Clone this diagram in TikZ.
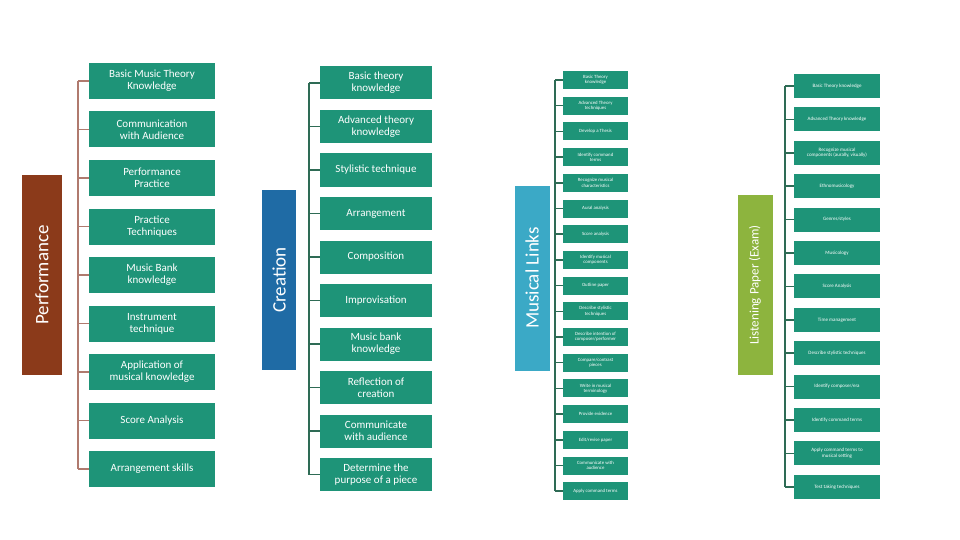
\documentclass[tikz,border=0pt]{standalone}
\usepackage{fontspec}
\setmainfont{Carlito}
\definecolor{boxg}{HTML}{1E9478}
\definecolor{perf}{HTML}{8B3A1A}
\definecolor{crea}{HTML}{1F6BA5}
\definecolor{musl}{HTML}{3BA9C6}
\definecolor{lisp}{HTML}{8DB43E}
\definecolor{brl}{HTML}{B07A6E}
\definecolor{dgl}{HTML}{2E6B55}
\begin{document}
\begin{tikzpicture}[x=1pt,y=-1pt,
 bx/.style={fill=boxg,text=white,align=center,inner sep=0pt},
 b1/.style={bx,minimum width=126,minimum height=36,font=\fontsize{11}{12}\selectfont},
 b2/.style={bx,minimum width=112,minimum height=33,font=\fontsize{11}{12}\selectfont},
 b3/.style={bx,minimum width=65,minimum height=18,font=\fontsize{4.8}{5.2}\selectfont},
 b4/.style={bx,minimum width=86,minimum height=24,font=\fontsize{5}{5.6}\selectfont},
 ttl/.style={text=white,rotate=90,inner sep=0pt,font=\fontsize{19}{20}\selectfont}]
\useasboundingbox (0,0) rectangle (960,540);
\node[fill=perf,minimum width=40,minimum height=200,inner sep=0] (tp) at (42,275) {};
\node[ttl] at (tp) {Performance};
\node[fill=crea,minimum width=34,minimum height=180,inner sep=0] (tc) at (279,280) {};
\node[ttl] at (tc) {Creation};
\node[fill=musl,minimum width=35,minimum height=185,inner sep=0] (tm) at (532,278) {};
\node[ttl] at (tm) {Musical Links};
\node[fill=lisp,minimum width=35,minimum height=180,inner sep=0] (tl) at (755,285) {};
\node[ttl,font=\fontsize{13}{14}\selectfont] at (tl) {Listening Paper (Exam)};
% Performance
\foreach \t [count=\i] in {{Basic Music Theory\\Knowledge},{Communication\\with Audience},{Performance\\Practice},{Practice\\Techniques},{Music Bank\\knowledge},{Instrument\\technique},{Application of\\musical knowledge},{Score Analysis},{Arrangement skills}}{
 \pgfmathsetmacro\yy{81+48.5*(\i-1)}
 \node[b1] (p\i) at (152,\yy) {\t};
 \draw[brl,line width=1.5] (78,\yy) -- (p\i.west);}
\draw[brl,line width=1.5] (78,81) -- (78,469);
% Creation
\foreach \t [count=\i] in {{Basic theory\\knowledge},{Advanced theory\\knowledge},{Stylistic technique},{Arrangement},{Composition},{Improvisation},{Music bank\\knowledge},{Reflection of\\creation},{Communicate\\with audience},{Determine the\\purpose of a piece}}{
 \pgfmathsetmacro\yy{83+43.5*(\i-1)}
 \node[b2] (c\i) at (376,\yy) {\t};
 \draw[dgl,line width=1.5] (309,\yy) -- (c\i.west);}
\draw[dgl,line width=1.5] (309,83) -- (309,475);
% Musical links
\foreach \t [count=\i] in {{Basic Theory\\knowledge},{Advanced Theory\\techniques},{Develop a Thesis},{Identify command\\terms},{Recognize musical\\characteristics},{Aural analysis},{Score analysis},{Identify musical\\components},{Outline paper},{Describe stylistic\\techniques},{Describe intention of\\composer/performer},{Compare/contrast\\pieces},{Write in musical\\terminology},{Provide evidence},{Edit/revise paper},{Communicate with\\audience},{Apply command terms}}{
 \pgfmathsetmacro\yy{80+25.7*(\i-1)}
 \node[b3] (m\i) at (595.5,\yy) {\t};
 \draw[dgl,line width=1.5] (555,\yy) -- (m\i.west);}
\draw[dgl,line width=1.5] (555,80) -- (555,491);
% Listening
\foreach \t [count=\i] in {{Basic Theory knowledge},{Advanced Theory knowledge},{Recognize musical\\components (aurally, visually)},{Ethnomusicology},{Genres/styles},{Musicology},{Score Analysis},{Time management},{Describe stylistic techniques},{Identify composer/era},{Identify command terms},{Apply command terms to\\musical setting},{Test taking techniques}}{
 \pgfmathsetmacro\yy{86+33.4*(\i-1)}
 \node[b4] (l\i) at (837,\yy) {\t};
 \draw[dgl,line width=1.5] (785,\yy) -- (l\i.west);}
\draw[dgl,line width=1.5] (785,86) -- (785,487);
\end{tikzpicture}
\end{document}
